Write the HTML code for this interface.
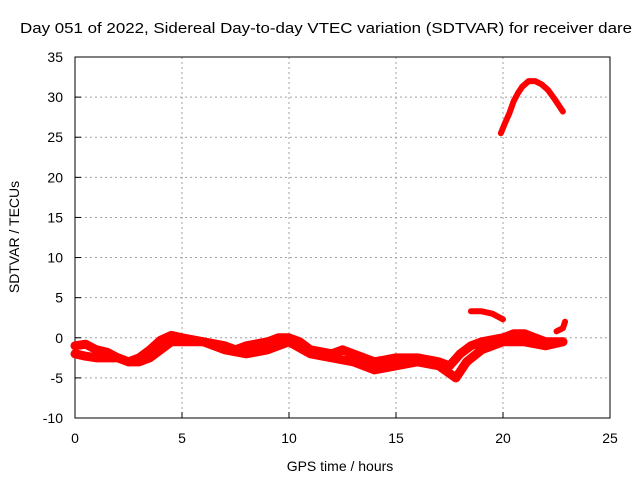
<!DOCTYPE html>
<html><head><meta charset="utf-8"><style>
body{margin:0;background:#fff}
svg{display:block;font-family:"Liberation Sans",sans-serif}
</style></head><body>
<svg id="c" width="640" height="480"></svg>
<script>
const xTicks=[0,5,10,15,20,25];
const yTicks=[-10,-5,0,5,10,15,20,25,30,35];
const trackUpperH=[0,0.5,1,1.5,2,2.5,3,3.5,4,4.5,5,6,7,7.5,8,9,9.5,10,10.5,11,12,12.5,13,14,15,16,17,17.5,18,18.5,19,20,20.5,21,21.5,22,22.8];
const trackUpperV=[-1,-0.8,-1.5,-1.8,-2.5,-3,-2.5,-1.5,-0.3,0.3,0,-0.5,-1,-1.5,-1,-0.5,0,0,-0.5,-1.5,-2,-1.5,-2,-3,-2.5,-2.5,-3,-3.5,-2,-1,-0.5,0,0.5,0.5,0,-0.5,-0.5];
const trackLowerH=[0,0.5,1,2,2.5,3,3.5,4,4.5,5,6,7,8,9,10,11,12,13,14,15,16,17,17.8,18.3,19,20,21,22,22.8];
const trackLowerV=[-2,-2.3,-2.5,-2.5,-3,-3,-2.5,-1.5,-0.5,-0.5,-0.5,-1.5,-2,-1.5,-0.5,-2,-2.5,-3,-4,-3.5,-3,-3.5,-5,-3,-1.5,-0.5,-0.5,-1,-0.5];
const trackHighH=[19.9,20.1,20.3,20.5,20.7,20.9,21.2,21.5,21.8,22.1,22.4,22.8];
const trackHighV=[25.5,26.8,28,29.5,30.5,31.3,32,32,31.6,30.9,29.8,28.2];
const trackMidH=[18.5,19,19.5,20];
const trackMidV=[3.3,3.3,3,2.3];
const trackEndH=[22.5,22.8,22.9];
const trackEndV=[0.8,1.2,2];
const X0=75,X1=610,Y0=418,Y1=57;
const sx=h=>X0+(h-0)/25*(X1-X0);
const sy=v=>Y0-(v+10)/45*(Y0-Y1);
const svg=document.getElementById('c');
const NS='http://www.w3.org/2000/svg';
function mk(t,a){const e=document.createElementNS(NS,t);for(const k in a)e.setAttribute(k,a[k]);svg.appendChild(e);return e;}
xTicks.forEach(t=>{const x=sx(t);
 if(t>0&&t<25){const g=mk('line',{x1:x,y1:Y1,x2:x,y2:Y0,stroke:'#a0a0a0','stroke-dasharray':'2,3'});}
 const tk=mk('line',{x1:x,y1:Y0,x2:x,y2:Y0-6,stroke:'#000'});
 const l=mk('text',{x:x,y:443,'text-anchor':'middle','font-size':14});l.textContent=t;});
yTicks.forEach(t=>{const y=sy(t);
 if(t>-10&&t<35){const g=mk('line',{x1:X0,y1:y,x2:X1,y2:y,stroke:'#a0a0a0','stroke-dasharray':'2,3'});}
 const tk=mk('line',{x1:X0,y1:y,x2:X0+6,y2:y,stroke:'#000'});
 const l=mk('text',{x:X0-12,y:y+5,'text-anchor':'end','font-size':14});l.textContent=t;});
const fr=mk('rect',{x:X0,y:Y1,width:X1-X0,height:Y0-Y1,fill:'none',stroke:'#000'});

function track(H,V,name,w){const p=mk('polyline',{points:H.map((h,i)=>sx(h)+','+sy(V[i])).join(' '),fill:'none',stroke:'#f00','stroke-width':w,'stroke-linejoin':'round','stroke-linecap':'round'});
 }
track(trackUpperH,trackUpperV,'series-track-upper',9);
track(trackLowerH,trackLowerV,'series-track-lower',9);
track(trackHighH,trackHighV,'series-track-high',6);
track(trackMidH,trackMidV,'series-track-mid',6);
track(trackEndH,trackEndV,'series-track-end',6);
const tt=mk('text',{x:20,y:33,'font-size':15,textLength:612,lengthAdjust:'spacingAndGlyphs'});tt.textContent='Day 051 of 2022, Sidereal Day-to-day VTEC variation (SDTVAR) for receiver dare';

const xt=mk('text',{x:340,y:471,'text-anchor':'middle','font-size':14});xt.textContent='GPS time / hours';

const yt=mk('text',{x:19,y:237,'text-anchor':'middle','font-size':14,transform:'rotate(-90 19 237)'});yt.textContent='SDTVAR / TECUs';

</script>
</body></html>
